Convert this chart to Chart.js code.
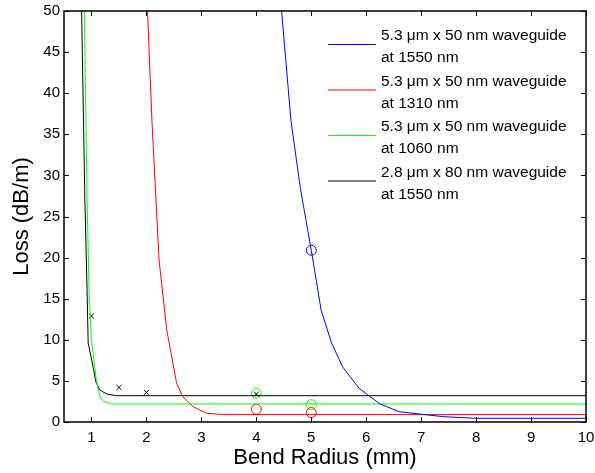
<!DOCTYPE html>
<html>
<head>
<meta charset="utf-8">
<script src="https://cdn.jsdelivr.net/npm/chart.js@4"></script>
<style>
  html, body { margin: 0; padding: 0; background: #fff; }
  canvas { display: block; }
</style>
</head>
<body>
<canvas id="chart" width="595" height="473"></canvas>
<script>
// tick labels
const xTicks = [1, 2, 3, 4, 5, 6, 7, 8, 9, 10];
const yTicks = [0, 5, 10, 15, 20, 25, 30, 35, 40, 45, 50];

// legend names (two lines each)
const seriesNames = [
    ['5.3 \u03bcm x 50 nm waveguide', 'at 1550 nm'],
    ['5.3 \u03bcm x 50 nm waveguide', 'at 1310 nm'],
    ['5.3 \u03bcm x 50 nm waveguide', 'at 1060 nm'],
    ['2.8 \u03bcm x 80 nm waveguide', 'at 1550 nm'],
];
const seriesColors = ['#0000ff', '#ff0000', '#00ff00', '#000000'];

// simulated curves: bend radius (mm) / loss (dB/m)
const blueR  = [4.40, 4.46, 4.63, 4.80, 5.00, 5.18, 5.37, 5.57, 5.87, 6.03, 6.25, 6.60, 7.00, 7.40, 8.00, 10.0];
const blueL  = [56,   50,   36.7, 28.5, 20.9, 13.6, 9.6,  6.7,  4.1,  3.3,  2.2,  1.25, 0.95, 0.65, 0.45, 0.45];
const redR   = [2.00, 2.02, 2.10, 2.23, 2.37, 2.55, 2.66, 2.85, 3.10, 3.40, 10.0];
const redL   = [56,   50,   36.7, 19.7, 11.2, 4.7,  3.1,  1.86, 1.06, 0.9,  0.9];
const greenR = [0.86, 0.87, 0.92, 0.96, 1.00, 1.09, 1.15, 1.22, 1.37, 10.0];
const greenL = [56,   50,   27,   15,   10,   5.1,  3.1,  2.5,  2.2,  2.2];
const blackR = [0.80, 0.82, 0.88, 0.92, 0.94, 1.03, 1.08, 1.15, 1.28, 1.46, 10.0];
const blackL = [56,   50,   27,   16,   9.6,  6.7,  4.9,  3.9,  3.4,  3.2,  3.2];

// measured points
const blueMeasR  = [5];
const blueMeasL  = [20.9];
const redMeasR   = [4, 5];
const redMeasL   = [1.55, 1.15];
const greenMeasR = [4, 5];
const greenMeasL = [3.5, 2.1];
const blackMeasR = [1, 1.5, 2, 4];
const blackMeasL = [12.9, 4.2, 3.6, 3.4];

const pts = (xs, ys) => xs.map((x, i) => ({ x, y: ys[i] }));

function curve(xs, ys, color) {
    return { data: pts(xs, ys), borderColor: color, borderWidth: 1, pointRadius: 0, showLine: true, tension: 0 };
}
function marks(xs, ys, color, style, r) {
    return {
        data: pts(xs, ys), borderColor: color, backgroundColor: 'rgba(0,0,0,0)', borderWidth: 1,
        showLine: false, pointStyle: style, pointRadius: r, pointHoverRadius: r
    };
}

// inward tick marks + frame, matlab style
const frameTicks = {
    id: 'frameTicks',
    afterDatasetsDraw(chart) {
        const { ctx, chartArea: a, scales: { x, y } } = chart;
        const len = 5;
        ctx.save();
        ctx.strokeStyle = '#000';
        ctx.lineWidth = 1;
        ctx.beginPath();
        for (const v of xTicks) {
            const px = Math.round(x.getPixelForValue(v)) + 0.5;
            ctx.moveTo(px, a.bottom); ctx.lineTo(px, a.bottom - len);
            ctx.moveTo(px, a.top);    ctx.lineTo(px, a.top + len);
        }
        for (const v of yTicks) {
            const py = Math.round(y.getPixelForValue(v)) + 0.5;
            ctx.moveTo(a.left, py);  ctx.lineTo(a.left + len, py);
            ctx.moveTo(a.right, py); ctx.lineTo(a.right - len, py);
        }
        ctx.stroke();
        ctx.lineWidth = 1.5;
        ctx.strokeRect(a.left, a.top, a.right - a.left, a.bottom - a.top);
        ctx.restore();
    }
};

// two-line legend like the original
const twoLineLegend = {
    id: 'twoLineLegend',
    afterDraw(chart) {
        const { ctx, chartArea: a } = chart;
        const x0 = a.right - 258, x1 = a.right - 210, tx = a.right - 205;
        ctx.save();
        ctx.font = '15.5px "Liberation Sans", Arial, sans-serif';
        ctx.textBaseline = 'middle';
        ctx.fillStyle = '#000';
        seriesNames.forEach((name, i) => {
            const ly = a.top + 33 + i * 45.5;
            ctx.strokeStyle = seriesColors[i];
            ctx.lineWidth = 1;
            ctx.beginPath();
            ctx.moveTo(x0, ly + 0.5); ctx.lineTo(x1, ly + 0.5);
            ctx.stroke();
            ctx.fillText(name[0], tx, ly - 8);
            ctx.fillText(name[1], tx, ly + 14);
        });
        ctx.restore();
    }
};

Chart.defaults.color = '#000';
Chart.defaults.font.family = '"Liberation Sans", Arial, sans-serif';

new Chart(document.getElementById('chart'), {
    type: 'scatter',
    data: {
        datasets: [
            curve(blueR, blueL, seriesColors[0]),
            curve(redR, redL, seriesColors[1]),
            curve(greenR, greenL, seriesColors[2]),
            curve(blackR, blackL, seriesColors[3]),
            marks(blueMeasR, blueMeasL, seriesColors[0], 'circle', 5),
            marks(redMeasR, redMeasL, seriesColors[1], 'circle', 5),
            marks(greenMeasR, greenMeasL, seriesColors[2], 'circle', 5),
            marks(blackMeasR, blackMeasL, seriesColors[3], 'crossRot', 3.5),
        ]
    },
    options: {
        responsive: false,
        animation: false,
        layout: { padding: { top: 11, right: 9, left: 0, bottom: 0 } },
        plugins: { legend: { display: false }, tooltip: { enabled: false } },
        scales: {
            x: {
                type: 'linear', min: 0.5, max: 10,
                afterBuildTicks: s => { s.ticks = xTicks.map(v => ({ value: v })); },
                afterFit: s => { s.height = 51; s.paddingLeft = 0; s.paddingRight = 0; },
                grid: { display: false, drawTicks: false },
                border: { display: false },
                ticks: { font: { size: 15 }, padding: 7 },
                title: { display: true, text: 'Bend Radius (mm)', font: { size: 22 }, padding: { top: 0, bottom: 2 } }
            },
            y: {
                type: 'linear', min: 0, max: 50,
                afterBuildTicks: s => { s.ticks = yTicks.map(v => ({ value: v })); },
                afterFit: s => { s.width = 64; s.paddingTop = 0; s.paddingBottom = 0; },
                grid: { display: false, drawTicks: false },
                border: { display: false },
                ticks: { font: { size: 15 }, padding: 4 },
                title: { display: true, text: 'Loss (dB/m)', font: { size: 22 }, padding: { top: 9, bottom: 0 } }
            }
        }
    },
    plugins: [frameTicks, twoLineLegend]
});
</script>
</body>
</html>
